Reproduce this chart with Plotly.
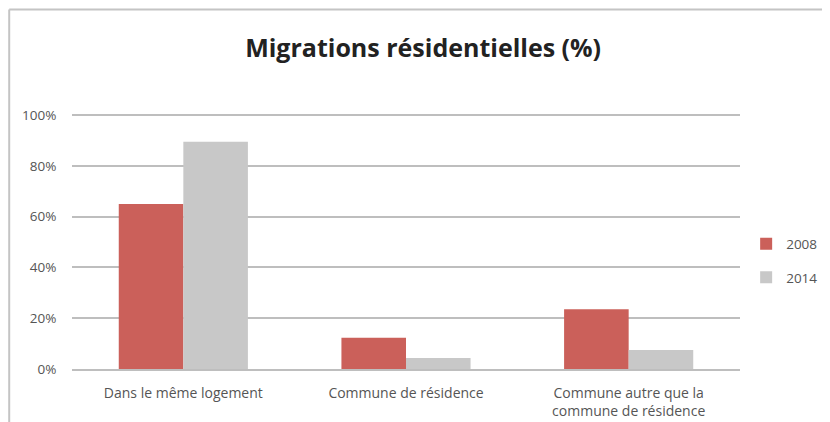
import plotly.graph_objects as go

categories = ["Dans le même logement", "Commune de résidence", "Commune autre que la<br>commune de résidence"]
values_2008 = [65, 12.3, 23.5]
values_2014 = [89.5, 4.3, 7.5]

fig = go.Figure()
fig.add_trace(go.Bar(x=categories, y=values_2008, name="2008", marker_color="#CB605A",
                     marker_line_width=0, legendgroup="a"))
fig.add_trace(go.Bar(x=categories, y=values_2014, name="2014", marker_color="#C8C8C8",
                     marker_line_width=0, legendgroup="b"))

# la page html ajoute une marge de 8px, on réduit la figure d'autant
fig.update_layout(
    width=822, height=414,
    margin=dict(l=64, r=90, t=106, b=53, autoexpand=False),
    paper_bgcolor="white", plot_bgcolor="white",
    barmode="group", bargap=0.42, bargroupgap=0,
    font=dict(family="Open Sans, Lato, sans-serif", size=14, color="#555555"),
    title=dict(text="<b>Migrations résidentielles (%)</b>", x=0.505, xanchor="center",
               y=0.903, yanchor="middle",
               font=dict(family="Open Sans, Lato, sans-serif", size=25, color="#222222")),
    legend=dict(xref="container", yref="container", x=0.898, y=0.389, xanchor="left", yanchor="middle",
                tracegroupgap=13, font=dict(size=13.5, color="#555555"), itemwidth=30),
    shapes=[
        dict(type="line", xref="paper", yref="paper", x0=-0.094, x1=1.2, y0=1.41, y1=1.41,
             line=dict(color="#C4C4C4", width=2)),
        dict(type="line", xref="paper", yref="paper", x0=-0.094, x1=-0.094, y0=-0.22, y1=1.41,
             line=dict(color="#C4C4C4", width=2)),
    ],
)
fig.update_yaxes(range=[0, 100.4], tickmode="linear", tick0=0, dtick=20, ticksuffix="%", showgrid=True,
                 gridcolor="#BEBEBE", gridwidth=2, zeroline=False, showline=False, ticks="outside",
                 ticklen=12, tickcolor="white", automargin=False, tickfont=dict(size=13.5))
fig.update_xaxes(showline=True, linecolor="#BEBEBE", linewidth=2, ticks="outside", ticklen=10,
                 tickcolor="white", automargin=False)

fig.write_html("out.html")
